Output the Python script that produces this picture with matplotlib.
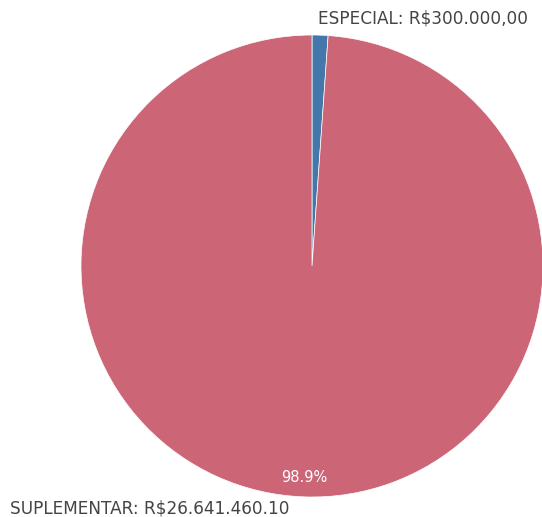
import matplotlib
matplotlib.use("Agg")
import matplotlib.pyplot as plt

# values
labels = ["ESPECIAL", "SUPLEMENTAR"]
values = [300000.00, 26641460.10]
value_text = ["R$300.000,00", "R$26.641.460.10"]
colors = ["#4477aa", "#cc6677"]

plt.rcParams["font.family"] = ["DejaVu Sans"]

fig = plt.figure(figsize=(5.42, 5.17), dpi=100)
ax = fig.add_axes([81 / 542, 20 / 517, 462 / 542, 462 / 517])

wedges, _ = ax.pie(values, colors=colors, startangle=90, counterclock=False,
                   radius=1, wedgeprops=dict(linewidth=0.5, edgecolor="white"))
ax.set_xlim(-1, 1)
ax.set_ylim(-1, 1)
ax.set_aspect("equal")
ax.axis("off")

total = sum(values)
pct = values[1] / total * 100
ax.text(-0.035, -0.915, f"{pct:.1f}%", color="white", fontsize=10.5,
        ha="center", va="center")

fig.text(528 / 542, 1 - 18 / 517, f"{labels[0]}: {value_text[0]}",
         ha="right", va="center", fontsize=12.2, color="#444444")
fig.text(10 / 542, 1 - 508 / 517, f"{labels[1]}: {value_text[1]}",
         ha="left", va="center", fontsize=12.2, color="#444444")

fig.savefig("out.png", dpi=100)
